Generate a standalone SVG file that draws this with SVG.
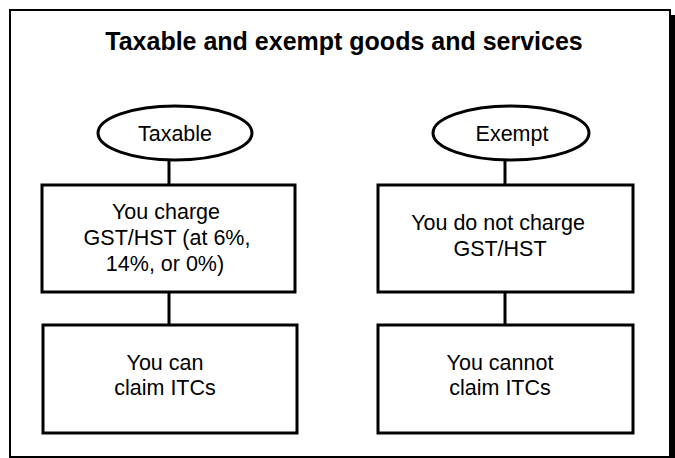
<svg xmlns="http://www.w3.org/2000/svg" width="675" height="458" viewBox="0 0 675 458">
  <style>
    text { font-family: "Liberation Sans", Arial, Helvetica, sans-serif; fill: #000; text-anchor: middle; }
    .title { font-size: 25px; font-weight: bold; }
    .label { font-size: 21.5px; }
    .shape { fill: #fff; stroke: #000; stroke-width: 3; }
    .link { stroke: #000; stroke-width: 3; fill: none; }
  </style>

  <!-- page frame with drop shadow on the right -->
  <rect x="670" y="15" width="5" height="443" fill="#000"/>
  <rect x="10" y="10" width="660" height="447" fill="#fff" stroke="#000" stroke-width="2"/>

  <text class="title" x="344" y="50">Taxable and exempt goods and services</text>

  <!-- connectors -->
  <g id="connectors">
    <line class="link" x1="169" y1="160" x2="169" y2="186"/>
    <line class="link" x1="169" y1="292" x2="169" y2="326"/>
    <line class="link" x1="505" y1="160" x2="505" y2="186"/>
    <line class="link" x1="505" y1="292" x2="505" y2="326"/>
  </g>

  <!-- taxable column -->
  <g id="taxable">
    <ellipse class="shape" cx="175" cy="133" rx="77" ry="27"/>
    <text class="label" x="175" y="141">Taxable</text>
  </g>
  <g id="charge">
    <rect class="shape" x="42" y="185" width="253" height="107"/>
    <text class="label" x="166" y="219">You charge</text>
    <text class="label" x="167" y="245">GST/HST (at 6%,</text>
    <text class="label" x="165" y="271">14%, or 0%)</text>
  </g>
  <g id="claim">
    <rect class="shape" x="43" y="325" width="254" height="108"/>
    <text class="label" x="165" y="370">You can</text>
    <text class="label" x="165" y="395">claim ITCs</text>
  </g>

  <!-- exempt column -->
  <g id="exempt">
    <ellipse class="shape" cx="511" cy="133" rx="78" ry="27"/>
    <text class="label" x="512" y="141">Exempt</text>
  </g>
  <g id="no-charge">
    <rect class="shape" x="378" y="185" width="255" height="107"/>
    <text class="label" x="498" y="230">You do not charge</text>
    <text class="label" x="500" y="256">GST/HST</text>
  </g>
  <g id="no-claim">
    <rect class="shape" x="378" y="325" width="255" height="108"/>
    <text class="label" x="500" y="370">You cannot</text>
    <text class="label" x="500" y="395">claim ITCs</text>
  </g>
</svg>
